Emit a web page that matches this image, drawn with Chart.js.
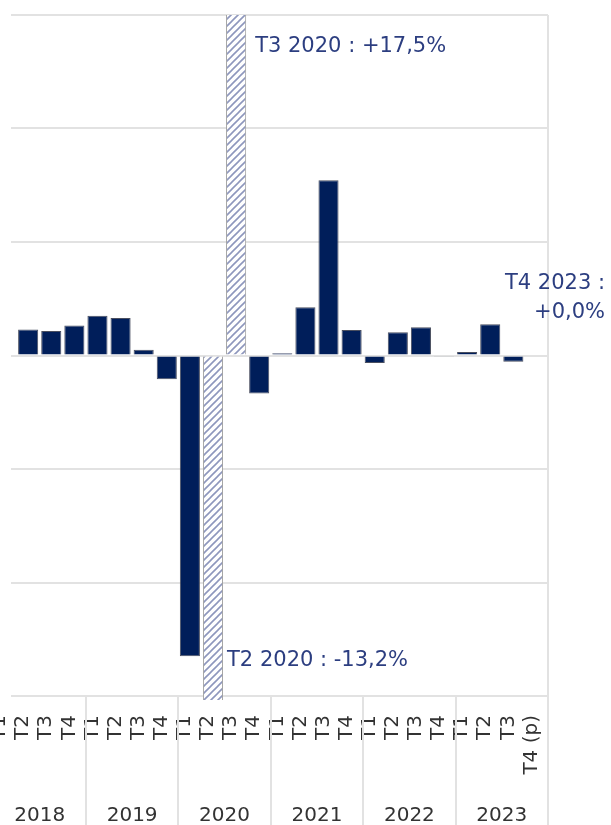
<!DOCTYPE html>
<html>
<head>
<meta charset="utf-8">
<script src="https://cdn.jsdelivr.net/npm/chart.js@4/dist/chart.umd.min.js"></script>
<style>
  html, body { margin: 0; padding: 0; background: #fff; overflow: hidden; }
  /* the picture is a crop: the left edge of the chart sits outside the window */
  #wrap { position: absolute; left: -20px; top: 0; width: 631px; height: 825px; }
</style>
</head>
<body>
<div id="wrap"><canvas id="pib" width="631" height="825"></canvas></div>
<script>
// quarterly growth, %
const quarters = ['T1', 'T2', 'T3', 'T4', 'T1', 'T2', 'T3', 'T4', 'T1', 'T2', 'T3', 'T4',
                  'T1', 'T2', 'T3', 'T4', 'T1', 'T2', 'T3', 'T4', 'T1', 'T2', 'T3', 'T4 (p)'];
const years = ['2018', '2019', '2020', '2021', '2022', '2023'];
const growth = [null, 0.46, 0.43, 0.53,
                0.70, 0.66, 0.10, -0.42,
                -5.3, -13.2, 17.5, -0.67,
                0.04, 0.85, 3.09, 0.45,
                -0.13, 0.41, 0.50, -0.02,
                0.06, 0.55, -0.11, 0.0];
const hatchedBars = [9, 10];   // T2 and T3 2020, off the scale
const yMin = -6, yMax = 6, yStep = 2;

const navy = '#001e5a';
const gridGrey = '#e2e2e2';
const noteBlue = '#2c3e80';

// diagonal hatch for the out-of-scale bars
const tile = document.createElement('canvas');
tile.width = 7; tile.height = 7;
const tc = tile.getContext('2d');
tc.fillStyle = '#fff';
tc.fillRect(0, 0, 7, 7);
tc.strokeStyle = '#8e97bd';
tc.lineWidth = 1.6;
tc.beginPath();
tc.moveTo(-1, 8); tc.lineTo(8, -1);
tc.moveTo(-1, 1); tc.lineTo(1, -1);
tc.moveTo(6, 8); tc.lineTo(8, 6);
tc.stroke();
const hatch = tc.createPattern(tile, 'repeat');

const fmt = v => (v >= 0 ? '+' : '') + v.toFixed(1).replace('.', ',') + '%';

const decor = {
  id: 'decor',
  beforeDatasetsDraw(chart) {
    // blank strip where the original picture was cut
    const { ctx, chartArea: a } = chart;
    ctx.save();
    ctx.fillStyle = '#fff';
    ctx.fillRect(0, a.top - 2, 31, a.bottom - a.top + 4);
    ctx.restore();
  },
  afterDraw(chart) {
    const { ctx, chartArea: a, scales: { x, y } } = chart;
    const step = x.width / quarters.length;
    const half = step * 0.87 / 2;
    ctx.save();

    // year separators under the axis
    ctx.strokeStyle = gridGrey;
    ctx.lineWidth = 2;
    for (let k = 1; k <= years.length; k++) {
      const px = Math.round(x.getPixelForValue(4 * k - 1) + step / 2);
      ctx.beginPath();
      ctx.moveTo(px, a.bottom);
      ctx.lineTo(px, chart.height);
      ctx.stroke();
    }

    // notes
    ctx.fillStyle = noteBlue;
    ctx.font = '21px "DejaVu Sans"';
    ctx.textBaseline = 'middle';
    ctx.textAlign = 'left';
    ctx.fillText('T3 2020 : ' + fmt(growth[10]), x.getPixelForValue(10) + half + 9, a.top + 32);
    ctx.fillText('T2 2020 : ' + fmt(growth[9]), x.getPixelForValue(9) + half + 4, a.bottom - 35);
    ctx.textAlign = 'right';
    const y0 = y.getPixelForValue(0);
    ctx.fillText('T4 2023 :', a.right + 57, y0 - 72);
    ctx.fillText(fmt(growth[23]), a.right + 57, y0 - 43);
    ctx.restore();
  }
};

new Chart(document.getElementById('pib'), {
  type: 'bar',
  data: {
    labels: quarters,
    datasets: [{
      data: growth,
      backgroundColor: growth.map((v, i) => hatchedBars.includes(i) ? hatch : navy),
      borderColor: growth.map((v, i) => hatchedBars.includes(i) ? '#a0a0a0' : '#4a4f60'),
      borderWidth: 1,
      barPercentage: 0.87,
      categoryPercentage: 1,
      clip: { left: 30, top: 0, right: 30, bottom: 4 }
    }]
  },
  options: {
    responsive: false,
    animation: false,
    layout: { padding: { left: 13.5, right: 63, top: 15, bottom: 0 } },
    plugins: { legend: { display: false }, tooltip: { enabled: false } },
    scales: {
      x: {
        position: 'bottom',
        offset: true,
        grid: {
          offset: true,
          drawTicks: false,
          lineWidth: 2,
          color: c => c.type === 'tick' ? 'rgba(0,0,0,0)' : gridGrey
        },
        border: { display: true, color: gridGrey, width: 2 },
        ticks: {
          autoSkip: false, minRotation: 90, maxRotation: 90, padding: 19, labelOffset: -5,
          color: '#333', font: { family: 'DejaVu Sans', size: 20 }
        },
        afterFit: s => { s.height = 104; }
      },
      x2: {
        type: 'category',
        labels: years,
        position: 'bottom',
        offset: true,
        grid: { display: false, drawTicks: false },
        border: { display: false },
        ticks: {
          autoSkip: false, maxRotation: 0, padding: 4,
          color: '#333', font: { family: 'DejaVu Sans', size: 20 }
        },
        afterFit: s => { s.height = 25; }
      },
      y: {
        min: yMin, max: yMax,
        ticks: { display: false, stepSize: yStep },
        grid: { drawTicks: false, color: gridGrey, lineWidth: 2 },
        border: { display: false },
        afterFit: s => { s.width = 0; }
      }
    }
  },
  plugins: [decor]
});
</script>
</body>
</html>
